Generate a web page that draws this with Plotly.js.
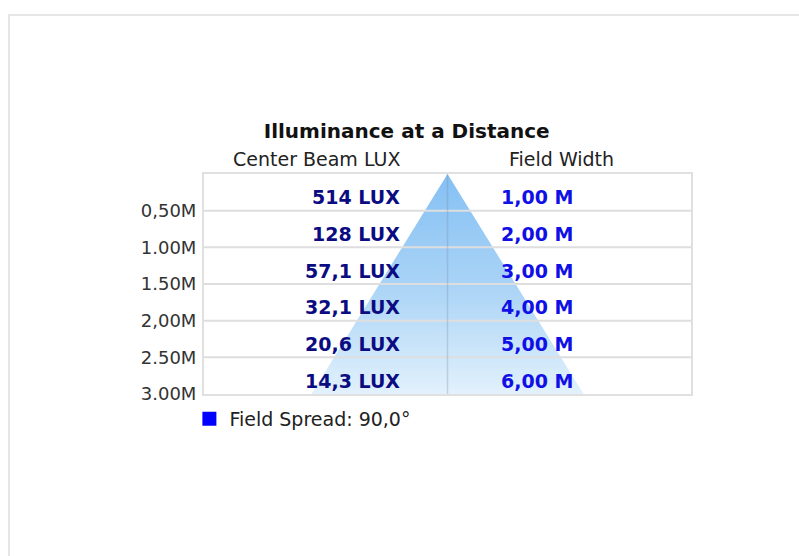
<!DOCTYPE html>
<html>
<head>
<meta charset="utf-8">
<script src="https://cdn.plot.ly/plotly-3.0.1.min.js"></script>
<style>
  html, body { margin: 0; padding: 0; background: #ffffff; }
  #frame { position: absolute; left: 8px; top: 14px; width: 820px; height: 600px;
           border-left: 2px solid #e6e6e6; border-top: 2px solid #e6e6e6; }
  #chart { position: absolute; left: 0; top: 0; width: 799px; height: 556px; }
</style>
</head>
<body>
<div id="frame"></div>
<div id="chart"></div>
<script>
// ---- data ----
const distances = [0.5, 1.0, 1.5, 2.0, 2.5, 3.0];
const fieldWidths = [1, 2, 3, 4, 5, 6];
const luxLabels = ['514 LUX', '128 LUX', '57,1 LUX', '32,1 LUX', '20,6 LUX', '14,3 LUX'];
const widthLabels = ['1,00 M', '2,00 M', '3,00 M', '4,00 M', '5,00 M', '6,00 M'];
const tickLabels = ['0,50M', '1.00M', '1.50M', '2,00M', '2.50M', '3.00M'];
const legendLabel = 'Field Spread: 90,0°';
const titleText = 'Illuminance at a Distance';
const colHeaders = ['Center Beam LUX', 'Field Width'];

// ---- beam polygon built from data ----
const halfW = fieldWidths.map(w => w / 2);
const polyX = [0].concat(halfW, halfW.slice().reverse().map(v => -v), [0]);
const polyY = [0].concat(distances, distances.slice().reverse(), [0]);

const FONT = 'DejaVu Sans, Verdana, sans-serif';

const traces = [
  {
    type: 'scatter', mode: 'lines',
    x: polyX, y: polyY,
    fill: 'toself',
    line: { width: 0, color: 'rgba(0,0,0,0)' },
    fillgradient: {
      type: 'vertical', start: 0, stop: 3,
      colorscale: [[0, '#84c0f4'], [0.5, '#a9d3f6'], [1, '#e2f1fc']]
    },
    hoverinfo: 'skip', showlegend: false
  },
  {
    type: 'scatter', mode: 'markers',
    x: [null], y: [null],
    name: legendLabel,
    marker: { symbol: 'square', size: 14, color: '#0000ff' },
    showlegend: true
  }
];

const shapes = [];
distances.slice(0, -1).forEach(d => {
  shapes.push({ type: 'line', xref: 'paper', x0: 0, x1: 1, yref: 'y', y0: d, y1: d,
    line: { color: '#dedede', width: 2 }, layer: 'above' });
});
shapes.push({ type: 'line', xref: 'x', x0: 0, x1: 0, yref: 'y', y0: 0, y1: distances[distances.length - 1],
  line: { color: 'rgba(120,140,160,0.3)', width: 1.5 }, layer: 'above' });

const annotations = [];
distances.forEach((d, i) => {
  annotations.push({ xref: 'paper', x: 0.4065, xanchor: 'right', yref: 'y', y: d - 0.25, yanchor: 'middle',
    yshift: -5, text: '<b>' + luxLabels[i] + '</b>', showarrow: false,
    font: { family: FONT, size: 19, color: '#0c0c82' } });
  annotations.push({ xref: 'paper', x: 0.606, xanchor: 'left', yref: 'y', y: d - 0.25, yanchor: 'middle',
    yshift: -5, text: '<b>' + widthLabels[i] + '</b>', showarrow: false,
    font: { family: FONT, size: 19, color: '#1010e6' } });
});
annotations.push({ xref: 'paper', x: 0.4065, xanchor: 'right', yref: 'paper', y: 1.068, yanchor: 'middle',
  text: colHeaders[0], showarrow: false, font: { family: FONT, size: 19, color: '#222' } });
annotations.push({ xref: 'paper', x: 0.735, xanchor: 'center', yref: 'paper', y: 1.068, yanchor: 'middle',
  text: colHeaders[1], showarrow: false, font: { family: FONT, size: 19, color: '#222' } });

const layout = {
  width: 799, height: 556,
  paper_bgcolor: 'rgba(0,0,0,0)', plot_bgcolor: '#ffffff',
  margin: { l: 204, r: 108, t: 174, b: 162 },
  title: { text: '<b>' + titleText + '</b>', x: 0.509, xanchor: 'center', xref: 'container',
    y: 1 - 131 / 556, yanchor: 'middle', yref: 'container',
    font: { family: FONT, size: 20, color: '#111' } },
  xaxis: { range: [-5.37, 5.37], showgrid: false, zeroline: false, showticklabels: false,
    showline: true, mirror: true, linecolor: '#e0e0e0', linewidth: 2, fixedrange: true },
  yaxis: { range: [3, 0], showgrid: false, zeroline: false,
    tickvals: distances, ticktext: tickLabels, ticks: '', ticklabelstandoff: 2,
    tickfont: { family: FONT, size: 18, color: '#333' },
    showline: true, mirror: true, linecolor: '#e0e0e0', linewidth: 2, fixedrange: true },
  showlegend: true,
  legend: { x: -0.03, xanchor: 'left', y: -0.027, yanchor: 'top', orientation: 'h',
    font: { family: FONT, size: 19, color: '#222' }, bgcolor: 'rgba(0,0,0,0)' },
  shapes: shapes,
  annotations: annotations
};

Plotly.newPlot('chart', traces, layout, { displayModeBar: false, staticPlot: true });
</script>
</body>
</html>
